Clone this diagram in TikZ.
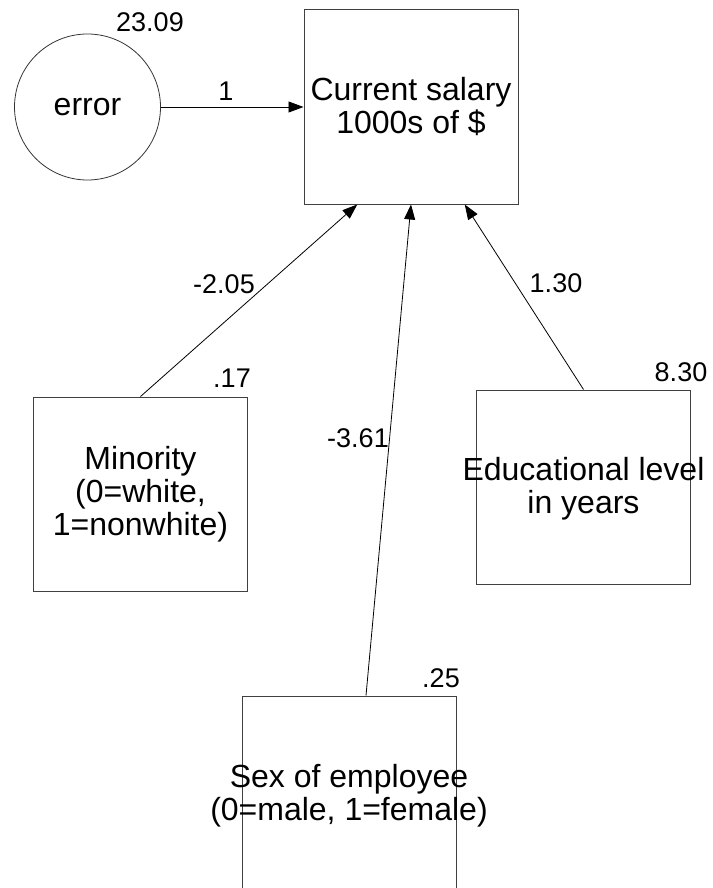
\documentclass[tikz,border=0pt]{standalone}
\usepackage{fontspec}
\setmainfont{Liberation Sans}
\usetikzlibrary{arrows.meta,calc}
\begin{document}
\begin{tikzpicture}[x=1pt,y=-1pt,
  varbox/.style={draw=black!75,line width=1pt,minimum width=214pt,minimum height=194pt,inner sep=0pt},
  latent/.style={draw=black!80,line width=0.8pt,circle,minimum size=146pt,inner sep=0pt},
  vartext/.style={align=center,inner sep=0pt,font=\fontsize{32}{33}\selectfont},
  coef/.style={inner sep=0pt,font=\fontsize{27}{29}\selectfont},
  path/.style={draw=black,line width=0.8pt,-{Triangle[length=15pt,width=11pt]}}]
\useasboundingbox (0,0) rectangle (712,888);

% variables
\node[varbox] (sal) at (411,107) {};
\node[varbox] (min) at (140.5,494) {};
\node[varbox] (edu) at (583.5,487) {};
\node[varbox] (sex) at (349,793) {};
\node[latent] (err) at (87.5,107) {};

% variable names
\node[vartext] (saltxt) at (411,107) {Current salary\\1000s of \$};
\node[vartext] (mintxt) at (140.5,494) {Minority\\(0=white,\\1=nonwhite)};
\node[vartext] (edutxt) at (583.5,489) {Educational level\\in years};
\node[vartext] (sextxt) at (349,796) {Sex of employee\\(0=male, 1=female)};
\node[vartext] (errtxt) at (87.5,107) {error};

% variances
\node[coef] (verr) at (150,22) {23.09};
\node[coef] (vmin) at (232,378) {.17};
\node[coef] (vsex) at (441,678) {.25};
\node[coef] (vedu) at (681,372) {8.30};

% regression paths
\coordinate (inmin) at ($(sal.south west)!0.25!(sal.south east)$);
\coordinate (inedu) at ($(sal.south west)!0.75!(sal.south east)$);
\coordinate (outsex) at ($(sex.north)+(17,0)$);
\draw[path] (err.east) -- (err.east -| sal.west);
\draw[path] (min.north) -- (inmin);
\draw[path] (outsex) -- (sal.south);
\draw[path] (edu.north) -- (inedu);

% path coefficients
\node[coef] (cerr) at (226,91) {1};
\node[coef] (cmin) at (224,284) {-2.05};
\node[coef] (cedu) at (556,283) {1.30};
\node[coef] (csex) at (358,438) {-3.61};
\end{tikzpicture}
\end{document}
